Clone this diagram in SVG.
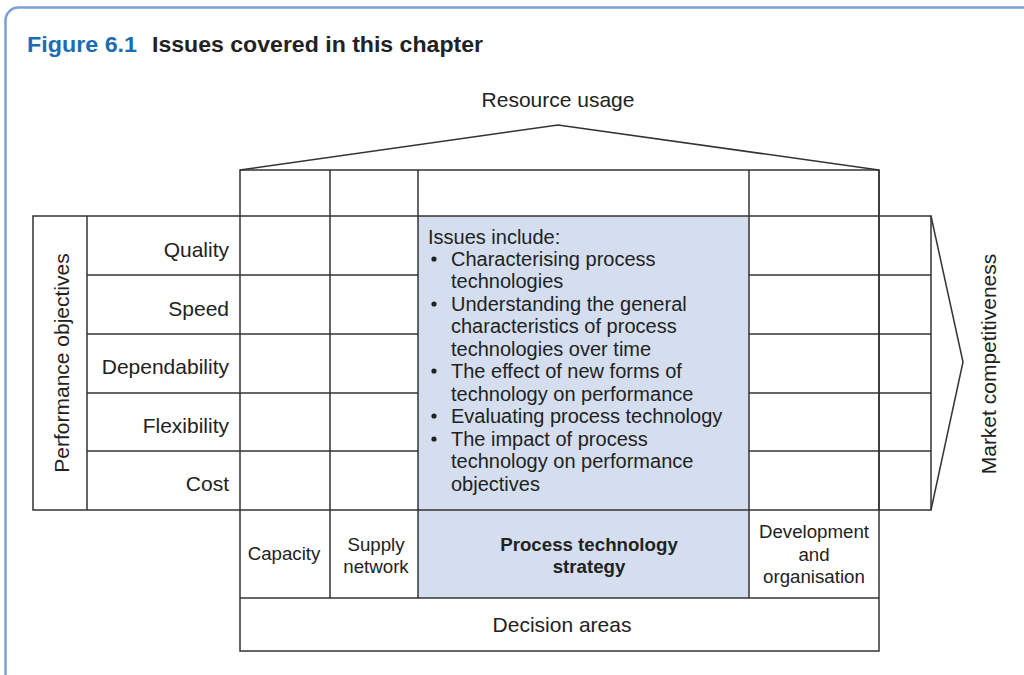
<svg xmlns="http://www.w3.org/2000/svg" width="1024" height="675" viewBox="0 0 1024 675">
<style>
.ln{fill:none;stroke:#333;stroke-width:1.5}
.t{font-family:"Liberation Sans",Arial,sans-serif;fill:#222;font-size:21px}
.s{font-family:"Liberation Sans",Arial,sans-serif;fill:#222;font-size:18.7px}
.iss{font-family:"Liberation Sans",Arial,sans-serif;fill:#222;font-size:20px}
.m{text-anchor:middle}
.r{text-anchor:end}
</style>
<rect width="1024" height="675" fill="#fff"/>
<rect id="frame" x="5.5" y="7.5" width="1030" height="680" rx="13" fill="none" stroke="#7aa0d6" stroke-width="2.5"/>
<g id="title">
<text x="27" y="52" font-family="Liberation Sans,Arial,sans-serif" font-weight="bold" font-size="22" fill="#1a6db5" textLength="110" lengthAdjust="spacingAndGlyphs">Figure 6.1</text>
<text x="152" y="52" font-family="Liberation Sans,Arial,sans-serif" font-weight="bold" font-size="22" fill="#222" textLength="331" lengthAdjust="spacingAndGlyphs">Issues covered in this chapter</text>
</g>
<g id="resource-usage">
<text class="t m" x="558" y="107">Resource usage</text>
<polyline class="ln" points="240,170 558,125 879,170"/>
</g>
<g id="process-cell">
<rect x="418" y="216" width="331" height="382" fill="#d4deef"/>
</g>
<g id="grid">
<rect class="ln" x="240" y="170" width="639" height="481"/>
<rect class="ln" x="33" y="216" width="898" height="294"/>
<line class="ln" x1="87" y1="216" x2="87" y2="510"/>
<line class="ln" x1="330" y1="170" x2="330" y2="598"/>
<line class="ln" x1="418" y1="170" x2="418" y2="598"/>
<line class="ln" x1="749" y1="170" x2="749" y2="598"/>
<line class="ln" x1="879" y1="170" x2="879" y2="510"/>
<line class="ln" x1="87" y1="275" x2="418" y2="275"/>
<line class="ln" x1="87" y1="334" x2="418" y2="334"/>
<line class="ln" x1="87" y1="393" x2="418" y2="393"/>
<line class="ln" x1="87" y1="451" x2="418" y2="451"/>
<line class="ln" x1="749" y1="275" x2="931" y2="275"/>
<line class="ln" x1="749" y1="334" x2="931" y2="334"/>
<line class="ln" x1="749" y1="393" x2="931" y2="393"/>
<line class="ln" x1="749" y1="451" x2="931" y2="451"/>
<line class="ln" x1="240" y1="598" x2="879" y2="598"/>
<polyline class="ln" points="931,216 963,362 931,510"/>
</g>
<g id="performance-objectives">
<text class="t m" transform="translate(69,363) rotate(-90)" font-size="21.8">Performance objectives</text>
<text class="t r" x="229" y="257">Quality</text>
<text class="t r" x="229" y="316">Speed</text>
<text class="t r" x="229" y="374">Dependability</text>
<text class="t r" x="229" y="433">Flexibility</text>
<text class="t r" x="229" y="491">Cost</text>
</g>
<g id="market-competitiveness">
<text class="t m" transform="translate(996,364) rotate(-90)" font-size="21.8">Market competitiveness</text>
</g>
<g id="issues">
<text class="iss" x="428" y="244">Issues include:</text>
<g fill="#222">
<circle cx="434" cy="259" r="2.6"/>
<circle cx="434" cy="304" r="2.6"/>
<circle cx="434" cy="371" r="2.6"/>
<circle cx="434" cy="416" r="2.6"/>
<circle cx="434" cy="439" r="2.6"/>
</g>
<text class="iss" x="451" y="266">Characterising process</text>
<text class="iss" x="451" y="288">technologies</text>
<text class="iss" x="451" y="311">Understanding the general</text>
<text class="iss" x="451" y="333">characteristics of process</text>
<text class="iss" x="451" y="356">technologies over time</text>
<text class="iss" x="451" y="378">The effect of new forms of</text>
<text class="iss" x="451" y="401">technology on performance</text>
<text class="iss" x="451" y="423">Evaluating process technology</text>
<text class="iss" x="451" y="446">The impact of process</text>
<text class="iss" x="451" y="468">technology on performance</text>
<text class="iss" x="451" y="491">objectives</text>
</g>
<g id="decision-areas">
<text class="s m" x="284" y="560">Capacity</text>
<text class="s m" x="376" y="551">Supply</text>
<text class="s m" x="376" y="573">network</text>
<text class="s m" x="589" y="551" font-weight="bold" font-size="18.5">Process technology</text>
<text class="s m" x="589" y="573" font-weight="bold" font-size="18.5">strategy</text>
<text class="s m" x="814" y="538">Development</text>
<text class="s m" x="814" y="561">and</text>
<text class="s m" x="814" y="583">organisation</text>
<text class="t m" x="562" y="632">Decision areas</text>
</g>
</svg>
